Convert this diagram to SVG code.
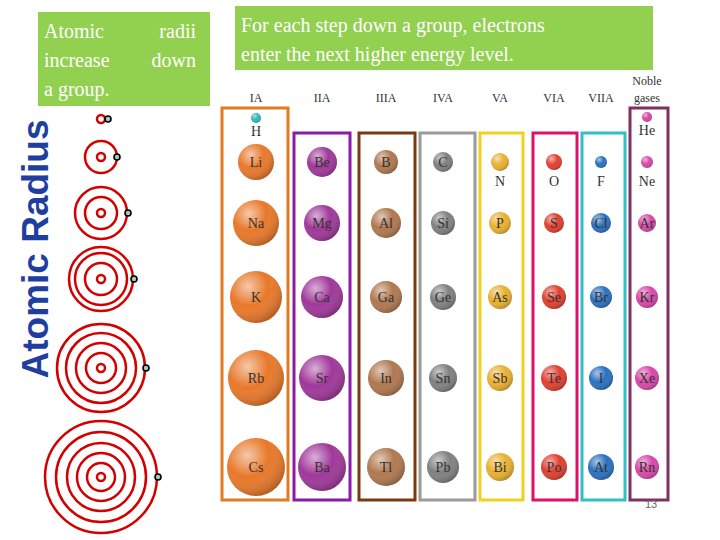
<svg xmlns="http://www.w3.org/2000/svg" width="720" height="540" viewBox="0 0 720 540">
<defs>
<radialGradient id="g" cx="0.35" cy="0.3" r="0.75"><stop offset="0" stop-color="#fff" stop-opacity="0.6"/><stop offset="0.5" stop-color="#fff" stop-opacity="0"/><stop offset="1" stop-color="#000" stop-opacity="0.25"/></radialGradient>
</defs>
<style>
.t{font-family:"Liberation Serif",serif;font-size:20px;fill:#fff}
.h{font-family:"Liberation Serif",serif;font-size:12px;fill:#333;text-anchor:middle}
.s{font-family:"Liberation Serif",serif;font-size:14px;fill:#333;text-anchor:middle}
.r{fill:none;stroke:#d40000;stroke-width:2.5}
.e{fill:#a8c8c8;stroke:#000;stroke-width:1.6}
.b{fill:none;stroke-width:3}
</style>
<rect width="720" height="540" fill="#fff"/>
<g id="box1"><rect x="38" y="12" width="172" height="94" fill="#92d050"/>
<text class="t" x="44" y="38">Atomic</text><text class="t" x="196" y="38" text-anchor="end">radii</text>
<text class="t" x="44" y="67">increase</text><text class="t" x="196" y="67" text-anchor="end">down</text>
<text class="t" x="44" y="96">a group.</text></g>
<g id="box2"><rect x="235" y="6" width="418" height="64" fill="#92d050"/>
<text class="t" x="241" y="32">For each step down a group, electrons</text>
<text class="t" x="241" y="61">enter the next higher energy level.</text></g>
<text x="48" y="249" transform="rotate(-90 48 249)" text-anchor="middle" font-family="Liberation Sans,sans-serif" font-weight="bold" font-size="37" fill="#1f3fa0">Atomic Radius</text>
<g id="atoms-bohr">
<circle class="r" cx="101" cy="119" r="4"/><circle class="e" cx="108" cy="119" r="3"/>
<circle class="r" cx="101" cy="157" r="4"/><circle class="r" cx="101" cy="157" r="16"/><circle class="e" cx="117" cy="157" r="3"/>
<circle class="r" cx="101" cy="213" r="4"/><circle class="r" cx="101" cy="213" r="16"/><circle class="r" cx="101" cy="213" r="26"/><circle class="e" cx="128" cy="213" r="3"/>
<circle class="r" cx="101" cy="279" r="4"/><circle class="r" cx="101" cy="279" r="16"/><circle class="r" cx="101" cy="279" r="26"/><circle class="r" cx="101" cy="279" r="32"/><circle class="e" cx="134" cy="279" r="3"/>
<circle class="r" cx="101" cy="368" r="4"/><circle class="r" cx="101" cy="368" r="15"/><circle class="r" cx="101" cy="368" r="25"/><circle class="r" cx="101" cy="368" r="35"/><circle class="r" cx="101" cy="368" r="44"/><circle class="e" cx="146" cy="368" r="3"/>
<circle class="r" cx="101" cy="477" r="4"/><circle class="r" cx="101" cy="477" r="14"/><circle class="r" cx="101" cy="477" r="24"/><circle class="r" cx="101" cy="477" r="34"/><circle class="r" cx="101" cy="477" r="45"/><circle class="r" cx="101" cy="477" r="56"/><circle class="e" cx="158" cy="477" r="3"/>
</g>
<g id="headers">
<text class="h" x="256" y="102">IA</text><text class="h" x="322" y="102">IIA</text><text class="h" x="386" y="102">IIIA</text><text class="h" x="443" y="102">IVA</text><text class="h" x="500" y="102">VA</text><text class="h" x="554" y="102">VIA</text><text class="h" x="601" y="102">VIIA</text>
<text class="h" x="647" y="85">Noble</text><text class="h" x="647" y="102">gases</text>
</g>
<g id="columns">
<rect class="b" x="222" y="108" width="66" height="392" stroke="#e07b20"/>
<rect class="b" x="294" y="133" width="56" height="367" stroke="#8a1aa8"/>
<rect class="b" x="359" y="133" width="56" height="367" stroke="#7a3a10"/>
<rect class="b" x="420" y="133" width="55" height="367" stroke="#9a9a9a"/>
<rect class="b" x="480" y="133" width="43" height="367" stroke="#f0d020"/>
<rect class="b" x="533" y="133" width="44" height="367" stroke="#e0106a"/>
<rect class="b" x="582" y="133" width="43" height="367" stroke="#30c0c8"/>
<rect class="b" x="630" y="108" width="38" height="392" stroke="#803060"/>
</g>
<g id="elements">
<g fill="#e8782a"><circle cx="256" cy="162" r="18"/><circle cx="256" cy="223" r="23"/><circle cx="256" cy="297" r="26"/><circle cx="256" cy="378" r="28"/><circle cx="256" cy="467" r="29"/></g>
<g fill="#a0389a"><circle cx="322" cy="162" r="15"/><circle cx="322" cy="223" r="18"/><circle cx="322" cy="297" r="21"/><circle cx="322" cy="378" r="23"/><circle cx="322" cy="467" r="24"/></g>
<g fill="#b07850"><circle cx="386" cy="162" r="12"/><circle cx="386" cy="223" r="15"/><circle cx="386" cy="297" r="16"/><circle cx="386" cy="378" r="18"/><circle cx="386" cy="467" r="19"/></g>
<g fill="#808080"><circle cx="443" cy="162" r="10"/><circle cx="443" cy="223" r="12"/><circle cx="443" cy="297" r="13"/><circle cx="443" cy="378" r="14"/><circle cx="443" cy="467" r="16"/></g>
<g fill="#e8b030"><circle cx="500" cy="162" r="9"/><circle cx="500" cy="223" r="11"/><circle cx="500" cy="297" r="12"/><circle cx="500" cy="378" r="13"/><circle cx="500" cy="467" r="14"/></g>
<g fill="#e04030"><circle cx="554" cy="162" r="8"/><circle cx="554" cy="223" r="10"/><circle cx="554" cy="297" r="12"/><circle cx="554" cy="378" r="13"/><circle cx="554" cy="467" r="13"/></g>
<g fill="#2a70c0"><circle cx="601" cy="162" r="6"/><circle cx="601" cy="223" r="10"/><circle cx="601" cy="297" r="11"/><circle cx="601" cy="378" r="12"/><circle cx="601" cy="467" r="13"/></g>
<g fill="#d848a8"><circle cx="647" cy="117" r="5"/><circle cx="647" cy="162" r="6"/><circle cx="647" cy="223" r="9"/><circle cx="647" cy="297" r="11"/><circle cx="647" cy="378" r="12"/><circle cx="647" cy="467" r="12"/></g>
<circle cx="256" cy="118" r="5" fill="#30b8b8"/>
<g fill="url(#g)">
<circle cx="256" cy="162" r="18"/><circle cx="256" cy="223" r="23"/><circle cx="256" cy="297" r="26"/><circle cx="256" cy="378" r="28"/><circle cx="256" cy="467" r="29"/>
<circle cx="322" cy="162" r="15"/><circle cx="322" cy="223" r="18"/><circle cx="322" cy="297" r="21"/><circle cx="322" cy="378" r="23"/><circle cx="322" cy="467" r="24"/>
<circle cx="386" cy="162" r="12"/><circle cx="386" cy="223" r="15"/><circle cx="386" cy="297" r="16"/><circle cx="386" cy="378" r="18"/><circle cx="386" cy="467" r="19"/>
<circle cx="443" cy="162" r="10"/><circle cx="443" cy="223" r="12"/><circle cx="443" cy="297" r="13"/><circle cx="443" cy="378" r="14"/><circle cx="443" cy="467" r="16"/>
<circle cx="500" cy="162" r="9"/><circle cx="500" cy="223" r="11"/><circle cx="500" cy="297" r="12"/><circle cx="500" cy="378" r="13"/><circle cx="500" cy="467" r="14"/>
<circle cx="554" cy="162" r="8"/><circle cx="554" cy="223" r="10"/><circle cx="554" cy="297" r="12"/><circle cx="554" cy="378" r="13"/><circle cx="554" cy="467" r="13"/>
<circle cx="601" cy="162" r="6"/><circle cx="601" cy="223" r="10"/><circle cx="601" cy="297" r="11"/><circle cx="601" cy="378" r="12"/><circle cx="601" cy="467" r="13"/>
<circle cx="647" cy="117" r="5"/><circle cx="647" cy="162" r="6"/><circle cx="647" cy="223" r="9"/><circle cx="647" cy="297" r="11"/><circle cx="647" cy="378" r="12"/><circle cx="647" cy="467" r="12"/>
<circle cx="256" cy="118" r="5"/>
</g>
<g class="s">
<text x="256" y="136">H</text><text x="647" y="135">He</text>
<text x="256" y="167">Li</text><text x="322" y="167">Be</text><text x="386" y="167">B</text><text x="443" y="167">C</text><text x="500" y="186">N</text><text x="554" y="186">O</text><text x="601" y="186">F</text><text x="647" y="186">Ne</text>
<text x="256" y="228">Na</text><text x="322" y="228">Mg</text><text x="386" y="228">Al</text><text x="443" y="228">Si</text><text x="500" y="228">P</text><text x="554" y="228">S</text><text x="601" y="228">Cl</text><text x="647" y="228">Ar</text>
<text x="256" y="302">K</text><text x="322" y="302">Ca</text><text x="386" y="302">Ga</text><text x="443" y="302">Ge</text><text x="500" y="302">As</text><text x="554" y="302">Se</text><text x="601" y="302">Br</text><text x="647" y="302">Kr</text>
<text x="256" y="383">Rb</text><text x="322" y="383">Sr</text><text x="386" y="383">In</text><text x="443" y="383">Sn</text><text x="500" y="383">Sb</text><text x="554" y="383">Te</text><text x="601" y="383">I</text><text x="647" y="383">Xe</text>
<text x="256" y="472">Cs</text><text x="322" y="472">Ba</text><text x="386" y="472">Tl</text><text x="443" y="472">Pb</text><text x="500" y="472">Bi</text><text x="554" y="472">Po</text><text x="601" y="472">At</text><text x="647" y="472">Rn</text>
</g>
</g>
<text x="651" y="508" font-family="Liberation Sans,sans-serif" font-size="11" fill="#666" text-anchor="middle">13</text>
</svg>
